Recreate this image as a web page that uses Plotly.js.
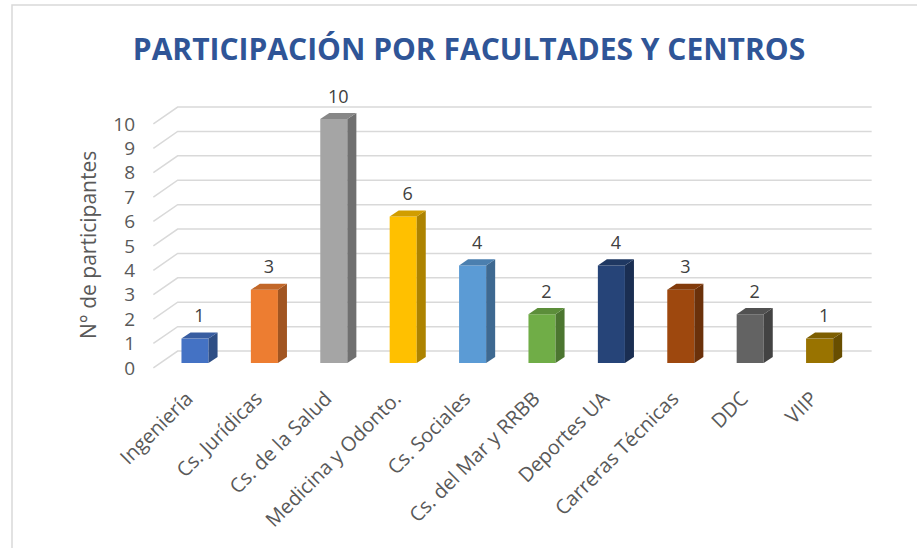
<!DOCTYPE html>
<html>
<head>
<meta charset="utf-8">
<script src="https://cdn.plot.ly/plotly-3.0.1.min.js"></script>
<style>
  html, body { margin: 0; padding: 0; background: #fff; }
  #fig { width: 917px; height: 548px; }
</style>
</head>
<body>
<div id="fig"></div>
<script>
// data
const categories = ["Ingeniería", "Cs. Jurídicas", "Cs. de la Salud", "Medicina y Odonto.",
                    "Cs. Sociales", "Cs. del Mar y RRBB", "Deportes UA", "Carreras Técnicas",
                    "DDC", "VIIP"];
const participants = [1, 3, 10, 6, 4, 2, 4, 3, 2, 1];
const barColors = ["#4472C4", "#ED7D31", "#A5A5A5", "#FFC000", "#5B9BD5",
                   "#70AD47", "#264478", "#9E480E", "#636363", "#997300"];
const yTicks = [0, 1, 2, 3, 4, 5, 6, 7, 8, 9, 10];

// geometry of the fake 3d look (in axis units)
const barW = 0.39;      // front face width
const depthX = 0.13;    // side face run to the right
const depthY = 0.25;    // top face rise
const frontShift = -0.2; // front edge of the floor / grid
const backShift = 0.49;  // back wall of the grid
const gridFrontX = -0.6, gridBackX = -0.25, gridEndX = 9.75;
const labelLift = 0.86;

// plot area in pixels
const W = 917, H = 548;
const L = 140, R = 37, T = 85, B = 173;
const pw = W - L - R, ph = H - T - B;
const pxX = (px) => (px - L) / pw;
const pxY = (py) => (H - B - py) / ph;

function shade (hex, f) {
  let n = parseInt(hex.slice(1), 16);
  let r = Math.round(((n >> 16) & 255) * f);
  let g = Math.round(((n >> 8) & 255) * f);
  let b = Math.round((n & 255) * f);
  return "rgb(" + r + "," + g + "," + b + ")";
}

let xs = categories.map((c, i) => i);

let shapes = [];

// grid lines : diagonal on the side wall + horizontal on the back wall
yTicks.forEach((v) => {
  shapes.push({type: "path", xref: "x", yref: "y", layer: "below",
    path: "M" + gridFrontX + "," + (v + frontShift) +
          " L" + gridBackX + "," + (v + backShift) +
          " L" + gridEndX + "," + (v + backShift),
    line: {color: "#D9D9D9", width: 1.5}});
});

// side and top faces of every bar
xs.forEach((x, i) => {
  let v = participants[i];
  let xr = x + barW / 2, xl = x - barW / 2;
  shapes.push({type: "path", xref: "x", yref: "y", layer: "above",
    path: "M" + xr + ",0 L" + (xr + depthX) + "," + depthY +
          " L" + (xr + depthX) + "," + (v + depthY) + " L" + xr + "," + v + " Z",
    fillcolor: shade(barColors[i], 0.68), line: {width: 0}});
  shapes.push({type: "path", xref: "x", yref: "y", layer: "above",
    path: "M" + xl + "," + v + " L" + xr + "," + v +
          " L" + (xr + depthX) + "," + (v + depthY) +
          " L" + (xl + depthX) + "," + (v + depthY) + " Z",
    fillcolor: shade(barColors[i], 0.82), line: {width: 0}});
});

// chart area border
shapes.push({type: "rect", xref: "paper", yref: "paper", layer: "below",
  x0: pxX(12), x1: pxX(918), y0: pxY(560), y1: pxY(5),
  line: {color: "#D9D9D9", width: 1.5}, fillcolor: "rgba(0,0,0,0)"});

let series = [];
series.push({type: "bar", x: xs, y: participants, width: barW,
  marker: {color: barColors, line: {width: 0}},
  hoverinfo: "x+y", showlegend: false});

series.push({type: "scatter", mode: "text", x: xs.map((x) => x + depthX / 2),
  y: participants.map((v) => v + labelLift),
  text: participants.map(String), textposition: "middle center",
  textfont: {family: "Open Sans", size: 18, color: "#404040"},
  cliponaxis: false, hoverinfo: "skip", showlegend: false});

let layout = {
  width: W, height: H,
  margin: {l: L, r: R, t: T, b: B, pad: 0},
  paper_bgcolor: "#fff", plot_bgcolor: "rgba(0,0,0,0)",
  showlegend: false,
  font: {family: "Open Sans", color: "#595959"},
  title: {text: "PARTICIPACIÓN POR FACULTADES Y CENTROS",
          font: {family: "Open Sans", size: 30, color: "#2F5597", weight: "bold"},
          x: 469 / W, xanchor: "center", y: 1 - 49 / H, yanchor: "middle"},
  xaxis: {range: [-(195 - L) / 69.4, (W - R - 195) / 69.4],
          tickvals: xs, ticktext: categories, tickangle: -45,
          tickfont: {family: "Open Sans", size: 20, color: "#595959"},
          ticklabelshift: -8, ticklabelstandoff: 7,
          showgrid: false, zeroline: false, showline: false, ticks: "",
          fixedrange: true},
  yaxis: {range: [-(H - B - 363) / 24.4, -(H - B - 363) / 24.4 + ph / 24.4],
          tickvals: yTicks.map((v) => v + frontShift), ticktext: yTicks.map(String),
          tickfont: {family: "Open Sans", size: 19, color: "#595959"},
          showgrid: false, zeroline: false, showline: false, ticks: "",
          ticklabelstandoff: 4,
          fixedrange: true},
  annotations: [{text: "N° de participantes", xref: "paper", yref: "paper",
                 x: pxX(88), y: pxY(245), xanchor: "center", yanchor: "middle",
                 textangle: -90, showarrow: false,
                 font: {family: "Open Sans", size: 21, color: "#595959"}}],
  shapes: shapes
};

Plotly.newPlot("fig", series, layout, {displayModeBar: false, staticPlot: true});
</script>
</body>
</html>
